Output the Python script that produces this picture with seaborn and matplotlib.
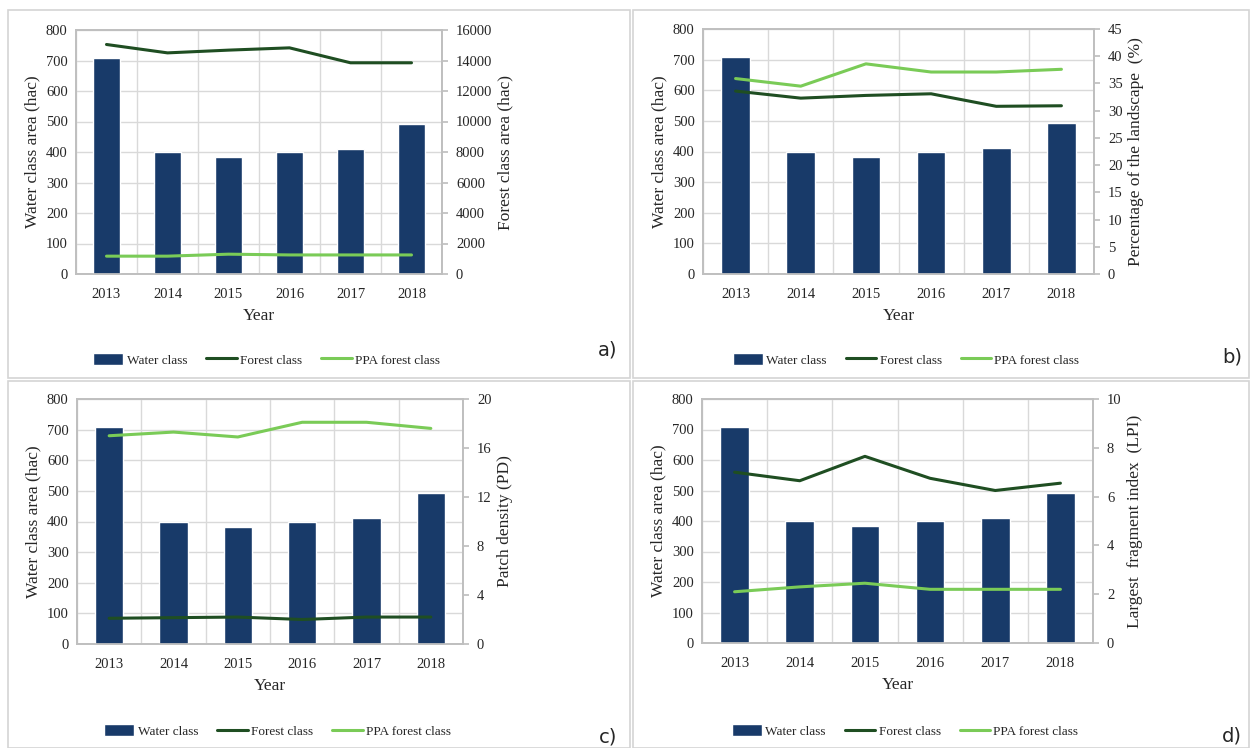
import numpy as np
import pandas as pd
import matplotlib
matplotlib.use("Agg")
import matplotlib.pyplot as plt
from matplotlib.patches import Rectangle
import seaborn as sns

sns.set_theme(style="white")
plt.rcParams['font.family'] = ['Liberation Serif', 'DejaVu Serif']

years = ["2013", "2014", "2015", "2016", "2017", "2018"]
water = [708, 400, 383, 400, 410, 492]

# panel a: class area (hac)
forest_area = [15050, 14500, 14680, 14830, 13850, 13850]
ppa_area = [1170, 1170, 1300, 1250, 1250, 1250]
# panel b: percentage of the landscape
forest_pland = [33.6, 32.3, 32.8, 33.1, 30.8, 30.9]
ppa_pland = [35.9, 34.5, 38.6, 37.1, 37.1, 37.6]
# panel c: patch density
forest_pd = [2.1, 2.15, 2.2, 2.0, 2.2, 2.2]
ppa_pd = [17.0, 17.3, 16.9, 18.1, 18.1, 17.6]
# panel d: largest fragment index
forest_lpi = [7.0, 6.65, 7.65, 6.75, 6.25, 6.55]
ppa_lpi = [2.1, 2.3, 2.45, 2.2, 2.2, 2.2]

panels = [
    ("a)", forest_area, ppa_area, "Forest class area (hac)", 16000, 2000),
    ("b)", forest_pland, ppa_pland, "Percentage of the landscape  (%)", 45, 5),
    ("c)", forest_pd, ppa_pd, "Patch density (PD)", 20, 4),
    ("d)", forest_lpi, ppa_lpi, "Largest  fragment index  (LPI)", 10, 2),
]

# axes boxes in pixels (left, top, right, bottom) and panel frames
W, H = 1250, 748
ax_px = [(76, 30, 442, 274), (703, 29, 1094, 274), (77, 399, 463, 644), (702, 399, 1093, 643)]
frames = [(8, 10, 630, 378), (633, 10, 1249, 378), (8, 381, 630, 748), (633, 381, 1249, 748)]
legend_y = [360, 360, 731, 731]
label_xy = [(608, 350), (1232, 357), (608, 737), (1232, 736)]

bar_color = "#183a69"
forest_color = "#1f4e22"
ppa_color = "#7acb57"
grid_color = "#d9d9d9"
spine_color = "#bfbfbf"

fig = plt.figure(figsize=(12.5, 7.48), dpi=100)

for (fx0, fy0, fx1, fy1) in frames:
    fig.patches.append(Rectangle((fx0 / W, 1 - fy1 / H), (fx1 - fx0) / W, (fy1 - fy0) / H,
                                 transform=fig.transFigure, fill=False,
                                 edgecolor="#d4d4d4", linewidth=1.2))

for i, (tag, forest, ppa, rlabel, rmax, rstep) in enumerate(panels):
    x0, y0, x1, y1 = ax_px[i]
    ax = fig.add_axes([x0 / W, 1 - y1 / H, (x1 - x0) / W, (y1 - y0) / H])
    df = pd.DataFrame({"year": years, "water": water, "forest": forest, "ppa": ppa})

    sns.barplot(data=df, x="year", y="water", color=bar_color, saturation=1,
                width=0.44, ax=ax, label="Water class", zorder=3)
    ax.set_ylim(0, 800)
    ax.set_yticks(range(0, 801, 100))
    ax.set_xlim(-0.5, len(years) - 0.5)
    ax.set_xticks(np.arange(-0.5, len(years), 1), minor=True)
    ax.grid(True, axis="y", color=grid_color, linewidth=1, zorder=0)
    ax.grid(True, axis="x", which="minor", color=grid_color, linewidth=1, zorder=0)
    ax.set_axisbelow(True)
    ax.set_xlabel("Year", fontsize=12.5, labelpad=5)
    ax.set_ylabel("Water class area (hac)", fontsize=12.5, labelpad=4)
    ax.tick_params(axis="y", labelsize=10.5, length=0, pad=6)
    ax.tick_params(axis="x", labelsize=10.5, length=0, pad=10)
    for s in ax.spines.values():
        s.set_color(spine_color)

    ax2 = ax.twinx()
    sns.lineplot(data=df, x="year", y="forest", ax=ax2, color=forest_color,
                 linewidth=2.2, label="Forest class", sort=False)
    sns.lineplot(data=df, x="year", y="ppa", ax=ax2, color=ppa_color,
                 linewidth=2.2, label="PPA forest class", sort=False)
    ax2.set_ylim(0, rmax)
    ax2.set_yticks(np.arange(0, rmax + rstep / 2, rstep))
    ax2.set_ylabel(rlabel, fontsize=12.5, labelpad=4)
    ax2.set_xlabel("")
    ax2.tick_params(axis="y", labelsize=10.5, length=4, color=spine_color, pad=6)
    ax2.grid(False)
    for s in ax2.spines.values():
        s.set_color(spine_color)
    if ax2.get_legend() is not None:
        ax2.get_legend().remove()
    if ax.get_legend() is not None:
        ax.get_legend().remove()

    h1, l1 = ax.get_legend_handles_labels()
    h2, l2 = ax2.get_legend_handles_labels()
    cx = (x0 + x1) / 2 / W + 0.006
    ax.legend(h1 + h2, l1 + l2, loc="center", ncol=3, frameon=False,
              bbox_to_anchor=(cx, 1 - legend_y[i] / H), bbox_transform=fig.transFigure,
              fontsize=9.5, handlelength=2.3, handleheight=1.0, columnspacing=1.45,
              handletextpad=0.25)

    lx, ly = label_xy[i]
    fig.text(lx / W, 1 - ly / H, tag, fontsize=14, family="DejaVu Sans",
             ha="center", va="center")

fig.savefig("out.png", dpi=100)
